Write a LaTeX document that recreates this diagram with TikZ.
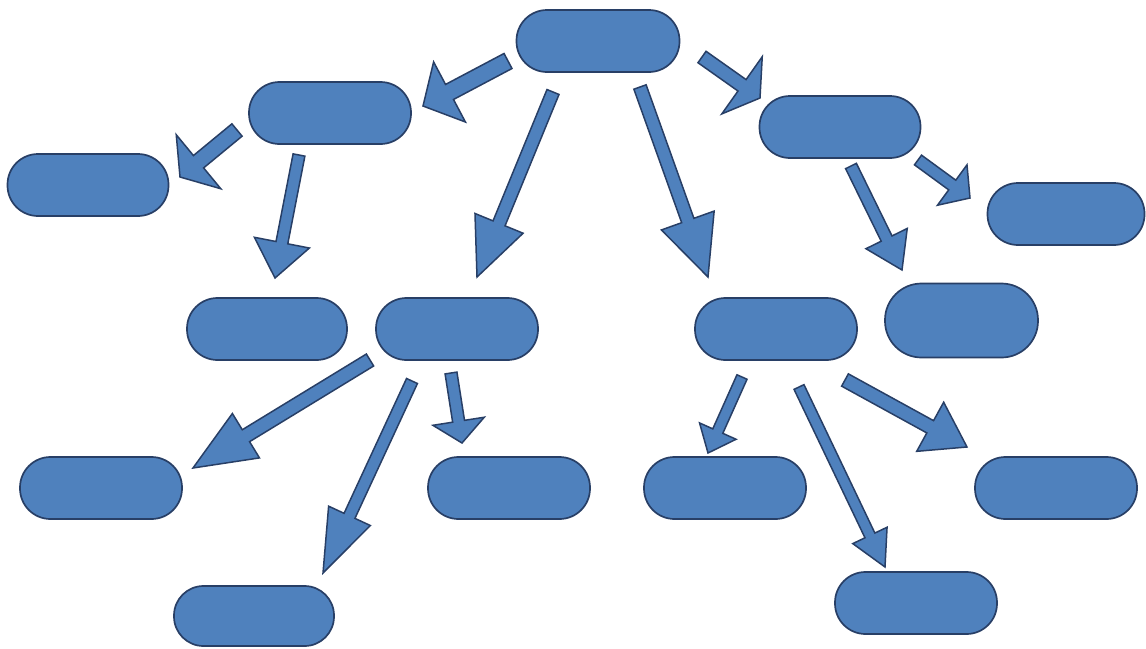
\documentclass[tikz,border=0pt]{standalone}
\usetikzlibrary{calc}
\definecolor{fillblue}{HTML}{4F81BD}
\definecolor{lineblue}{HTML}{283F66}
\tikzset{
  pill/.style={draw=lineblue, fill=fillblue, line width=1.7pt, rectangle,
    minimum width=162pt, minimum height=62pt, rounded corners=30.5pt, inner sep=0pt},
  blockarr/.style={draw=lineblue, fill=fillblue, line width=1.5pt, line join=miter}
}
% #1 tail, #2 tip, #3 half shaft width, #4 half head width, #5 head length
\newcommand\blockarrow[5]{%
  \path coordinate (tmpneck) at ($(#2)!#5!(#1)$);
  \draw[blockarr] ($(#1)!#3!90:(#2)$) -- ($(tmpneck)!#3!90:(#2)$) -- ($(tmpneck)!#4!90:(#2)$)
    -- (#2) -- ($(tmpneck)!#4!-90:(#2)$) -- ($(tmpneck)!#3!-90:(#2)$) -- ($(#1)!#3!-90:(#2)$) -- cycle;
}
\begin{document}
\begin{tikzpicture}[x=1pt,y=-1pt]
\useasboundingbox (0,0) rectangle (1146,648);
% boxes
\node[pill, minimum width=163pt] (top) at (598,41) {};
\node[pill] (lu) at (330,113) {};
\node[pill, minimum width=161pt] (fl) at (88,185) {};
\node[pill, minimum width=161pt] (ru) at (840,127) {};
\node[pill, minimum width=157pt] (fr) at (1066,214) {};
\node[pill, minimum width=160pt] (a) at (267,329) {};
\node[pill] (b) at (457,329) {};
\node[pill] (c) at (776,329) {};
\node[pill, minimum width=153pt, minimum height=74pt, rounded corners=36.5pt] (d) at (961.5,320.5) {};
\node[pill] (e) at (101,488) {};
\node[pill] (f) at (509,488) {};
\node[pill] (g) at (725,488) {};
\node[pill] (h) at (1056,488) {};
\node[pill, minimum width=160pt, minimum height=60pt, rounded corners=29.5pt] (i) at (254,616) {};
\node[pill] (j) at (916,603) {};
% arrow end points
\coordinate (t1) at (508,61);  \coordinate (h1) at (423,106);
\coordinate (t2) at (237,130); \coordinate (h2) at (180,177);
\coordinate (t3) at (299,155); \coordinate (h3) at (275,278);
\coordinate (t4) at (553,92);  \coordinate (h4) at (477,277);
\coordinate (t5) at (640,87);  \coordinate (h5) at (708,277);
\coordinate (t6) at (702,57);  \coordinate (h6) at (760,98);
\coordinate (t7) at (851,166); \coordinate (h7) at (902,270);
\coordinate (t8) at (918,160); \coordinate (h8) at (970,198);
\coordinate (t9) at (370,360); \coordinate (h9) at (193,468);
\coordinate (t10) at (412,381); \coordinate (h10) at (323,573);
\coordinate (t11) at (451,373); \coordinate (h11) at (462,443);
\coordinate (t12) at (742,377); \coordinate (h12) at (708,453);
\coordinate (t13) at (799,387); \coordinate (h13) at (885,567);
\coordinate (t14) at (845,380); \coordinate (h14) at (967,447);
% arrows
\blockarrow{t1}{h1}{8.5pt}{34pt}{30pt}
\blockarrow{t2}{h2}{8pt}{35pt}{24pt}
\blockarrow{t3}{h3}{6pt}{28pt}{36pt}
\blockarrow{t4}{h4}{6.5pt}{26pt}{58pt}
\blockarrow{t5}{h5}{6.5pt}{28pt}{60pt}
\blockarrow{t6}{h6}{7pt}{35pt}{22pt}
\blockarrow{t7}{h7}{6pt}{23pt}{35pt}
\blockarrow{t8}{h8}{6pt}{25pt}{22pt}
\blockarrow{t9}{h9}{7pt}{26pt}{62pt}
\blockarrow{t10}{h10}{6pt}{23pt}{63pt}
\blockarrow{t11}{h11}{6pt}{26pt}{22pt}
\blockarrow{t12}{h12}{5.5pt}{20pt}{24pt}
\blockarrow{t13}{h13}{5.5pt}{19pt}{35pt}
\blockarrow{t14}{h14}{7pt}{28pt}{42pt}
\end{tikzpicture}
\end{document}
